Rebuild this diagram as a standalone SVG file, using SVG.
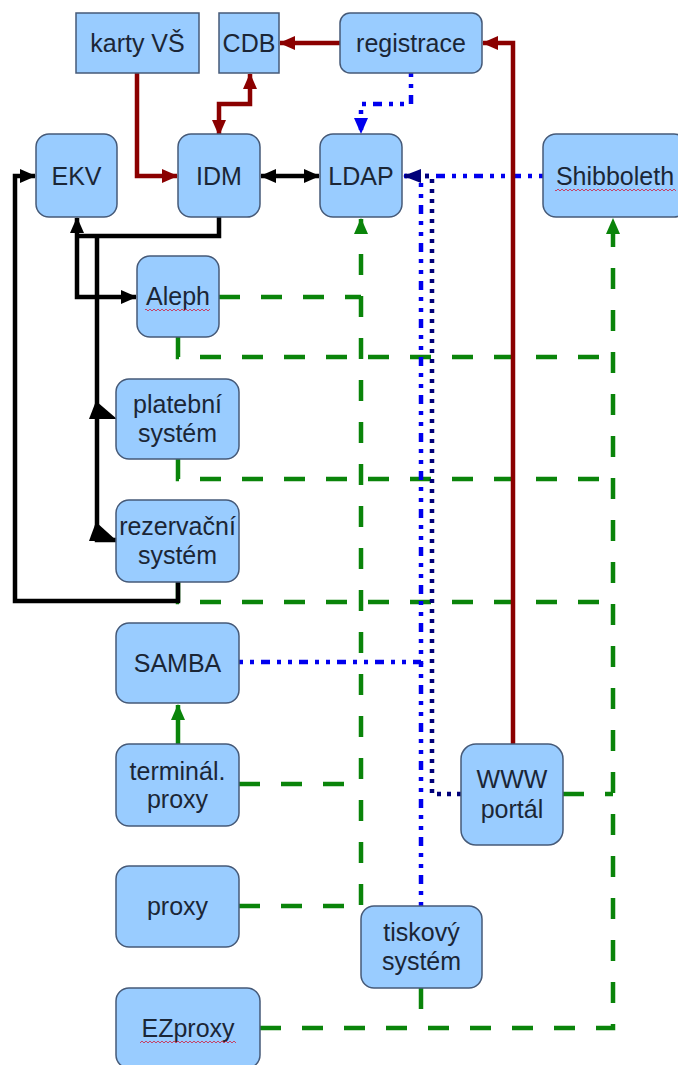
<svg xmlns="http://www.w3.org/2000/svg" width="678" height="1065" viewBox="0 0 678 1065">
<style>
.box{fill:#99ccff;stroke:#465a78;stroke-width:1.5}
.t{font-family:"Liberation Sans",Arial,sans-serif;font-size:25px;fill:#1b2636;text-anchor:middle}
.red{fill:none;stroke:#8b0000;stroke-width:4.5}
.blk{fill:none;stroke:#000;stroke-width:4.5}
.grn{fill:none;stroke:#0a840a;stroke-width:4.5;stroke-dasharray:21 21}
.grns{fill:none;stroke:#0a840a;stroke-width:4.5}
.blu{fill:none;stroke:#0000ee;stroke-width:4.5;stroke-dasharray:4 7 4 7 9 7}
.nav{fill:none;stroke:#00007a;stroke-width:4.5;stroke-dasharray:4 6}
</style>
<defs>
<marker id="ar" markerUnits="userSpaceOnUse" markerWidth="16" markerHeight="14" refX="15" refY="7" orient="auto-start-reverse"><path d="M0,0 L16,7 L0,14 z" fill="#8b0000"/></marker>
<marker id="ab" markerUnits="userSpaceOnUse" markerWidth="16" markerHeight="14" refX="15" refY="7" orient="auto-start-reverse"><path d="M0,0 L16,7 L0,14 z" fill="#000"/></marker>
<marker id="ag" markerUnits="userSpaceOnUse" markerWidth="16" markerHeight="14" refX="15" refY="7" orient="auto-start-reverse"><path d="M0,0 L16,7 L0,14 z" fill="#0a840a"/></marker>
<marker id="au" markerUnits="userSpaceOnUse" markerWidth="16" markerHeight="14" refX="15" refY="7" orient="auto-start-reverse"><path d="M0,0 L16,7 L0,14 z" fill="#0000ee"/></marker>
<marker id="an" markerUnits="userSpaceOnUse" markerWidth="18" markerHeight="14" refX="17" refY="7" orient="auto-start-reverse"><path d="M0,0 L18,7 L0,14 z" fill="#00007a"/></marker>
<pattern id="squig" width="4" height="4" patternUnits="userSpaceOnUse"><path d="M0,3 L2,1 L4,3" fill="none" stroke="#d02040" stroke-width="0.8"/></pattern>
</defs>
<rect width="678" height="1065" fill="#fff"/>
<g id="connectors">
<path class="grn" d="M361,905 V219" marker-end="url(#ag)"/>
<path class="grn" d="M219,297 H361"/>
<path class="grn" d="M178,337 V357 H613"/>
<path class="grn" d="M178,459 V479 H613"/>
<path class="grn" d="M178,582 V602 H613"/>
<path class="grn" d="M239,784 H361"/>
<path class="grn" d="M239,906 H361"/>
<path class="grn" d="M260,1028 H613 V219" marker-end="url(#ag)"/>
<path class="grn" d="M421,988 V1028"/>
<path class="grn" d="M563,794 H613"/>
<path class="grns" d="M178,744 V705" marker-end="url(#ag)"/>
<path class="blu" d="M411,73 V104 H361 V133" marker-end="url(#au)"/>
<path class="blu" d="M543,176 H404"/>
<path class="blu" d="M239,662 H421 V176"/>
<path class="blu" d="M421,906 V662"/>
<path class="nav" d="M461,794 H432 V176 H404" marker-end="url(#an)"/>
<path class="red" d="M137,73 V176 H177" marker-end="url(#ar)"/>
<path class="red" d="M219,135 V104 H250 V74" marker-start="url(#ar)" marker-end="url(#ar)"/>
<path class="red" d="M340,43 H280" marker-end="url(#ar)"/>
<path class="red" d="M513,744 V43 H483" marker-end="url(#ar)"/>
<path class="blk" d="M261,176 H319" marker-start="url(#ab)" marker-end="url(#ab)"/>
<path class="blk" d="M77,218 V297 H136" marker-start="url(#ab)" marker-end="url(#ab)"/>
<path class="blk" d="M219,217 V236 H77"/>
<path class="blk" d="M97,236 V540 H116"/>
<polygon points="89,419 96,401 117,419" fill="#000"/>
<polygon points="89,541 96,522 117,541" fill="#000"/>
<path class="blk" d="M178,582 V601 H15 V176 H35" marker-end="url(#ab)"/>
</g>
<g id="karty"><rect class="box" x="76" y="13" width="123" height="60"/><text class="t" x="137.5" y="52">karty VŠ</text></g>
<g id="cdb"><rect class="box" x="219" y="13" width="60" height="60"/><text class="t" x="249" y="52">CDB</text></g>
<g id="registrace"><rect class="box" x="340" y="13" width="142" height="60" rx="10"/><text class="t" x="411" y="52">registrace</text></g>
<g id="ekv"><rect class="box" x="36" y="134" width="81" height="83" rx="13"/><text class="t" x="76.5" y="185">EKV</text></g>
<g id="idm"><rect class="box" x="178" y="134" width="82" height="83" rx="13"/><text class="t" x="219" y="185">IDM</text></g>
<g id="ldap"><rect class="box" x="320" y="134" width="82" height="83" rx="13"/><text class="t" x="361" y="185">LDAP</text></g>
<g id="shibboleth"><rect class="box" x="543" y="134" width="144" height="83" rx="13"/><text class="t" x="615" y="185">Shibboleth</text><rect x="555" y="187" width="121" height="4" fill="url(#squig)"/></g>
<g id="aleph"><rect class="box" x="137" y="256" width="82" height="81" rx="13"/><text class="t" x="178" y="305">Aleph</text><rect x="145" y="307" width="65" height="4" fill="url(#squig)"/></g>
<g id="platebni"><rect class="box" x="116" y="379" width="123" height="80" rx="13"/><text class="t" x="177.5" y="413">platební</text><text class="t" x="177.5" y="442">systém</text></g>
<g id="rezervacni"><rect class="box" x="116" y="500" width="123" height="82" rx="13"/><text class="t" x="177.5" y="535">rezervační</text><text class="t" x="177.5" y="564">systém</text></g>
<g id="samba"><rect class="box" x="116" y="623" width="123" height="80" rx="13"/><text class="t" x="177.5" y="672">SAMBA</text></g>
<g id="terminal"><rect class="box" x="116" y="744" width="123" height="82" rx="13"/><text class="t" x="177.5" y="780">terminál.</text><text class="t" x="177.5" y="808">proxy</text></g>
<g id="proxy"><rect class="box" x="116" y="866" width="123" height="81" rx="13"/><text class="t" x="177.5" y="915">proxy</text></g>
<g id="www"><rect class="box" x="461" y="744" width="102" height="101" rx="15"/><text class="t" x="512" y="788">WWW</text><text class="t" x="512" y="818">portál</text></g>
<g id="tiskovy"><rect class="box" x="361" y="906" width="121" height="82" rx="13"/><text class="t" x="421.5" y="941">tiskový</text><text class="t" x="421.5" y="970">systém</text></g>
<g id="ezproxy"><rect class="box" x="116" y="988" width="144" height="80" rx="13"/><text class="t" x="188" y="1037">EZproxy</text><rect x="140" y="1039" width="96" height="4" fill="url(#squig)"/></g>
</svg>
